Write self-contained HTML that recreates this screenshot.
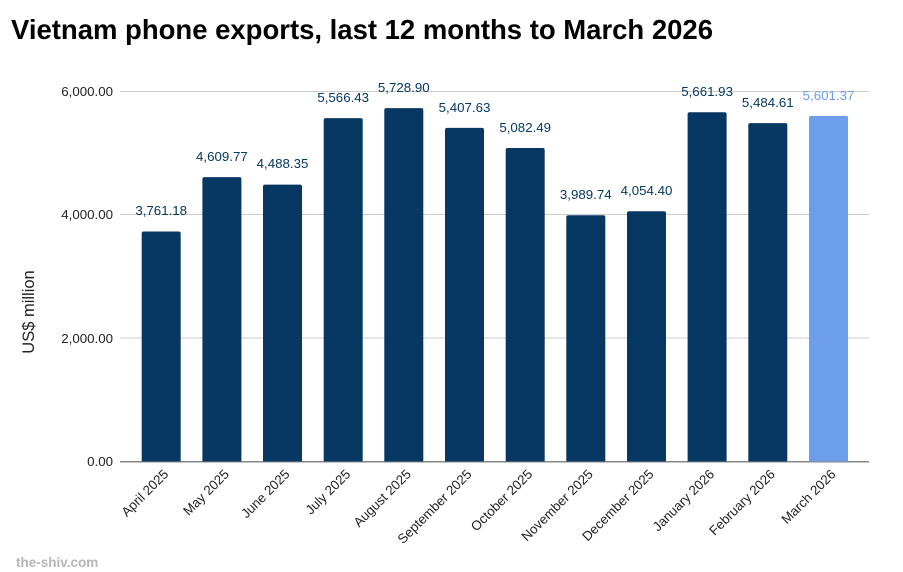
<!DOCTYPE html>
<html><head><meta charset="utf-8"><style>
html,body{margin:0;padding:0;background:#fff;}
svg{display:block;}
text{font-family:"Liberation Sans",Arial,sans-serif;}
</style></head><body>
<svg width="903" height="572" viewBox="0 0 903 572" xmlns="http://www.w3.org/2000/svg">
<rect width="903" height="572" fill="#fff"/>
<text x="11" y="39" font-size="27.4" font-weight="bold" fill="#000" textLength="702" lengthAdjust="spacingAndGlyphs">Vietnam phone exports, last 12 months to March 2026</text>
<g stroke="#cccccc" stroke-width="1">
<line x1="120" y1="91.5" x2="869" y2="91.5"/>
<line x1="120" y1="214.5" x2="869" y2="214.5"/>
<line x1="120" y1="338" x2="869" y2="338"/>
</g>
<g font-size="13.3" fill="#222" text-anchor="end">
<text x="113" y="96">6,000.00</text>
<text x="113" y="219">4,000.00</text>
<text x="113" y="343">2,000.00</text>
<text x="113" y="466">0.00</text>
</g>
<text transform="translate(34,312) rotate(-90)" font-size="16.5" fill="#222" text-anchor="middle">US$ million</text>
<line x1="120" y1="461.7" x2="869" y2="461.7" stroke="#888" stroke-width="1.5"/>
<g fill="#073763">
<path d="M141.7,461.5 V233.5 a2,2 0 0 1 2,-2 H178.7 a2,2 0 0 1 2,2 V461.5Z"/>
<path d="M202.4,461.5 V179.1 a2,2 0 0 1 2,-2 H239.4 a2,2 0 0 1 2,2 V461.5Z"/>
<path d="M263.0,461.5 V186.6 a2,2 0 0 1 2,-2 H300.0 a2,2 0 0 1 2,2 V461.5Z"/>
<path d="M323.7,461.5 V120.1 a2,2 0 0 1 2,-2 H360.7 a2,2 0 0 1 2,2 V461.5Z"/>
<path d="M384.3,461.5 V110.1 a2,2 0 0 1 2,-2 H421.3 a2,2 0 0 1 2,2 V461.5Z"/>
<path d="M445.0,461.5 V129.9 a2,2 0 0 1 2,-2 H482.0 a2,2 0 0 1 2,2 V461.5Z"/>
<path d="M505.7,461.5 V150.0 a2,2 0 0 1 2,-2 H542.7 a2,2 0 0 1 2,2 V461.5Z"/>
<path d="M566.3,461.5 V217.3 a2,2 0 0 1 2,-2 H603.3 a2,2 0 0 1 2,2 V461.5Z"/>
<path d="M627.0,461.5 V213.3 a2,2 0 0 1 2,-2 H664.0 a2,2 0 0 1 2,2 V461.5Z"/>
<path d="M687.6,461.5 V114.2 a2,2 0 0 1 2,-2 H724.6 a2,2 0 0 1 2,2 V461.5Z"/>
<path d="M748.3,461.5 V125.1 a2,2 0 0 1 2,-2 H785.3 a2,2 0 0 1 2,2 V461.5Z"/>
</g>
<path fill="#6d9eeb" d="M809.0,461.5 V117.9 a2,2 0 0 1 2,-2 H846.0 a2,2 0 0 1 2,2 V461.5Z"/>
<g font-size="13.3" fill="#073763" text-anchor="middle">
<text x="161.2" y="215">3,761.18</text>
<text x="221.9" y="161">4,609.77</text>
<text x="282.5" y="168">4,488.35</text>
<text x="343.2" y="102">5,566.43</text>
<text x="403.8" y="92">5,728.90</text>
<text x="464.5" y="112">5,407.63</text>
<text x="525.2" y="132">5,082.49</text>
<text x="585.8" y="199">3,989.74</text>
<text x="646.5" y="195">4,054.40</text>
<text x="707.1" y="96">5,661.93</text>
<text x="767.8" y="107">5,484.61</text>
<text x="828.5" y="100" fill="#6d9eeb">5,601.37</text>
</g>
<g font-size="13.3" fill="#222" text-anchor="end">
<text transform="translate(169.2,475) rotate(-45)">April 2025</text>
<text transform="translate(229.9,475) rotate(-45)">May 2025</text>
<text transform="translate(290.5,475) rotate(-45)">June 2025</text>
<text transform="translate(351.2,475) rotate(-45)">July 2025</text>
<text transform="translate(411.8,475) rotate(-45)">August 2025</text>
<text transform="translate(472.5,475) rotate(-45)">September 2025</text>
<text transform="translate(533.2,475) rotate(-45)">October 2025</text>
<text transform="translate(593.8,475) rotate(-45)">November 2025</text>
<text transform="translate(654.5,475) rotate(-45)">December 2025</text>
<text transform="translate(715.1,475) rotate(-45)">January 2026</text>
<text transform="translate(775.8,475) rotate(-45)">February 2026</text>
<text transform="translate(836.5,475) rotate(-45)">March 2026</text>
</g>
<text x="16" y="567" font-size="13.5" font-weight="bold" fill="#b7b7b7">the-shiv.com</text>
</svg>
</body></html>
